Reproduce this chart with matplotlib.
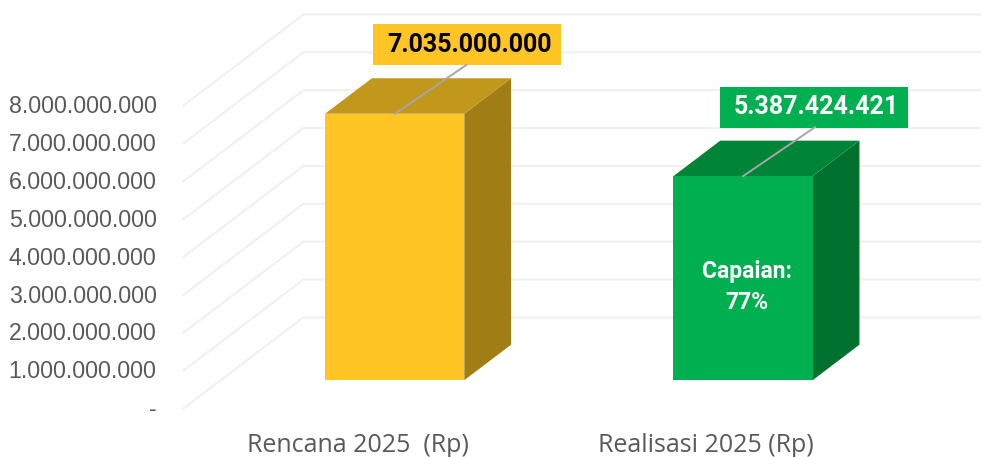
import matplotlib
matplotlib.use("Agg")
import matplotlib.pyplot as plt
from matplotlib.patches import Polygon, Rectangle
from matplotlib.transforms import IdentityTransform, ScaledTranslation

categories = ["Rencana 2025  (Rp)", "Realisasi 2025 (Rp)"]
values = [7035000000, 5387424421]
value_labels = ["7.035.000.000", "5.387.424.421"]
ticks = [0, 1e9, 2e9, 3e9, 4e9, 5e9, 6e9, 7e9, 8e9]
tick_labels = ["-", "1.000.000.000", "2.000.000.000", "3.000.000.000", "4.000.000.000",
               "5.000.000.000", "6.000.000.000", "7.000.000.000", "8.000.000.000"]
front = ["#FFC524", "#00B050"]
top = ["#C1971C", "#008437"]
side = ["#A17E15", "#00702F"]
box = ["#FFC524", "#00B050"]
label_color = ["#000000", "#FFFFFF"]
note = ["Capaian:", "77%"]

W, H = 981, 457
fig = plt.figure(figsize=(W / 100, H / 100), dpi=100)
ax = fig.add_axes([183.5 / W, 1 - 408.4 / H, 696 / W, 303 / H])
ax.set_xlim(-0.5, 1.5)
ax.set_ylim(0, 8e9)
for s in ax.spines.values():
    s.set_visible(False)
ax.patch.set_alpha(0)

# oblique depth: one full depth moves 120 px right and 91 px up
DX = 120 / 348
DY = 91 / 303 * 8e9


def proj(x, v, d):
    return (x + d * DX, v + d * DY)


GRID = "#F1F1F1"
for t in ticks:
    p0, p1 = proj(-0.5, t, 0), proj(-0.5, t, 1)
    p2 = proj(1.5, t, 1)
    ax.plot([p0[0], p1[0], p2[0]], [p0[1], p1[1], p2[1]], color=GRID, lw=1.6,
            clip_on=False, zorder=1, solid_joinstyle="miter")

d0, d1 = 0.31, 0.70
hw = 0.2
offs = [0.0, 0.001]
box_left = [21.5, 23]
for i, v in enumerate(values):
    a, b = i - hw + offs[i], i + hw + offs[i]
    ax.add_patch(Polygon([proj(b, 0, d0), proj(b, 0, d1), proj(b, v, d1), proj(b, v, d0)],
                         fc=side[i], ec="none", clip_on=False, zorder=2))
    ax.add_patch(Polygon([proj(a, v, d0), proj(b, v, d0), proj(b, v, d1), proj(a, v, d1)],
                         fc=top[i], ec="none", clip_on=False, zorder=2))
    ax.add_patch(Polygon([proj(a, 0, d0), proj(b, 0, d0), proj(b, v, d0), proj(a, v, d0)],
                         fc=front[i], ec="none", clip_on=False, zorder=3))

fig.canvas.draw()
for i, v in enumerate(values):
    anchor = proj(i + offs[i], v, d0)
    px, py = ax.transData.transform(anchor)
    # value label box, placed relative to the top of the bar
    bx0, by0, bw, bh = px - box_left[i], py + 48.6, 188, 41
    fig.add_artist(Rectangle((bx0, by0), bw, bh, fc=box[i], ec="none",
                             transform=IdentityTransform(), zorder=4))
    fig.add_artist(plt.Line2D([px, px + 72], [py, py + 49], color="#A6A6A6", lw=1.4,
                              transform=IdentityTransform(), zorder=5))
    fig.text(bx0 + 14 + 164 / 2, by0 + bh / 2, value_labels[i], transform=IdentityTransform(),
             family="Roboto", weight="bold", fontsize=18, color=label_color[i],
             ha="center", va="center", zorder=6)

cx, cy = ax.transData.transform(proj(1 + offs[1], 0, d0))
for txt, dy in zip(note, [109, 77.5]):
    fig.text(cx + 3.5, cy + dy, txt, transform=IdentityTransform(), family="Roboto", weight="bold",
             fontsize=16.5, color="#FFFFFF", ha="center", va="center", zorder=6)

ax.set_yticks(ticks)
ax.set_yticklabels(tick_labels, family="Liberation Sans", fontsize=16.7, color="#595959")
ax.set_xticks([0, 1])
ax.set_xticklabels(categories, family="Open Sans", fontsize=18, color="#595959")
ax.tick_params(axis="y", length=0, pad=19.4)
ax.tick_params(axis="x", length=0, pad=18)
shift = ScaledTranslation(0, 1.2 / 100, fig.dpi_scale_trans)
for lab in ax.get_yticklabels():
    lab.set_transform(lab.get_transform() + shift)

fig.savefig("out.png", dpi=100, facecolor="white")
